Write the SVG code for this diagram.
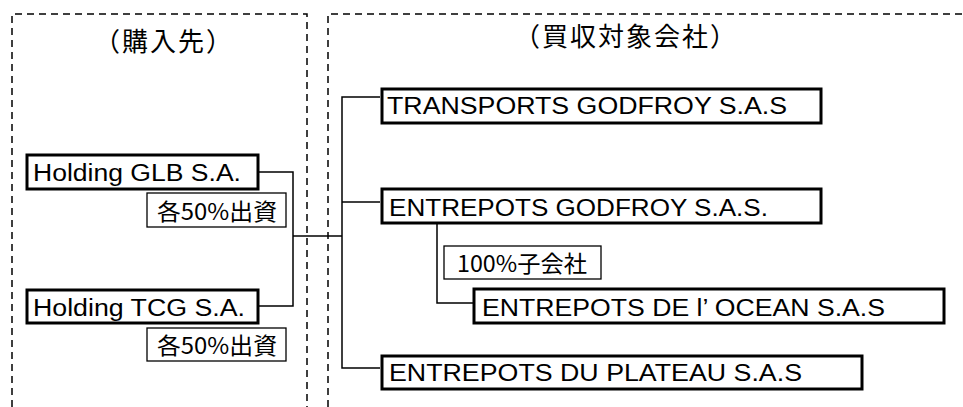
<svg xmlns="http://www.w3.org/2000/svg" width="963" height="407" viewBox="0 0 963 407">
<style>
.dash{fill:none;stroke:#000;stroke-width:1.5;stroke-dasharray:7 5}
.box{fill:#fff;stroke:#000;stroke-width:3}
.lbl{fill:#fff;stroke:#000;stroke-width:1.3}
.t{font-family:"Liberation Sans","Noto Sans CJK JP",sans-serif;font-size:23.5px;fill:#000}
.j{font-family:"Noto Sans CJK JP","Liberation Sans",sans-serif;font-size:23px;fill:#000}
.h{font-family:"Noto Sans CJK JP",sans-serif;font-size:26px;fill:#000;letter-spacing:2px}
.ln{fill:none;stroke:#000;stroke-width:1.5}
</style>
<rect width="963" height="407" fill="#fff"/>
<g id="frames">
<path class="dash" d="M12,407 V14 H307 V407"/>
<path class="dash" d="M328,407 V14 H963"/>
<text class="h" x="94" y="51">（購入先）</text>
<text class="h" x="514" y="46">（買収対象会社）</text>
</g>
<g id="connectors">
<path class="ln" d="M258,172 H293 V306 H258"/>
<path class="ln" d="M293,236 H342"/>
<path class="ln" d="M380,97 H342 V368 H380"/>
<path class="ln" d="M342,202 H380"/>
<path class="ln" d="M437,223 V303 H473"/>
</g>
<g id="glb">
<rect class="box" x="27" y="155" width="231" height="34"/>
<text class="t" x="33" y="181" textLength="208" lengthAdjust="spacingAndGlyphs">Holding GLB S.A.</text>
</g>
<g id="glb-label">
<rect class="lbl" x="147" y="193" width="139" height="34"/>
<text class="j" x="157" y="220" textLength="120" lengthAdjust="spacingAndGlyphs">各50%出資</text>
</g>
<g id="tcg">
<rect class="box" x="27" y="290" width="231" height="33"/>
<text class="t" x="33" y="316" textLength="212" lengthAdjust="spacingAndGlyphs">Holding TCG S.A.</text>
</g>
<g id="tcg-label">
<rect class="lbl" x="147" y="328" width="139" height="33"/>
<text class="j" x="157" y="354" textLength="120" lengthAdjust="spacingAndGlyphs">各50%出資</text>
</g>
<g id="transports">
<rect class="box" x="382" y="89" width="439" height="34"/>
<text class="t" x="387" y="114" textLength="400" lengthAdjust="spacingAndGlyphs">TRANSPORTS GODFROY S.A.S</text>
</g>
<g id="entrepots-godfroy">
<rect class="box" x="382" y="189" width="439" height="34"/>
<text class="t" x="389" y="216" textLength="379" lengthAdjust="spacingAndGlyphs">ENTREPOTS GODFROY S.A.S.</text>
</g>
<g id="sub-label">
<rect class="lbl" x="444" y="246" width="157" height="33"/>
<text class="j" x="457" y="272" textLength="130" lengthAdjust="spacingAndGlyphs">100%子会社</text>
</g>
<g id="entrepots-ocean">
<rect class="box" x="474" y="289" width="470" height="34"/>
<text class="t" x="482" y="316" textLength="403" lengthAdjust="spacingAndGlyphs">ENTREPOTS DE l’ OCEAN S.A.S</text>
</g>
<g id="entrepots-plateau">
<rect class="box" x="382" y="356" width="480" height="33"/>
<text class="t" x="389" y="381" textLength="413" lengthAdjust="spacingAndGlyphs">ENTREPOTS DU PLATEAU S.A.S</text>
</g>
</svg>
